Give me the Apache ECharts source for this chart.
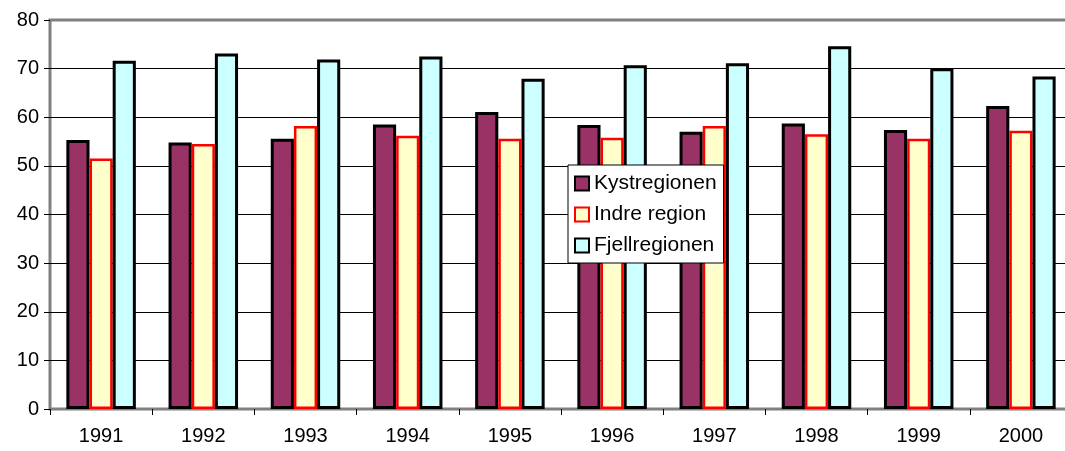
<!DOCTYPE html>
<html>
<head>
<meta charset="utf-8">
<script src="https://cdn.jsdelivr.net/npm/echarts@6/dist/echarts.min.js"></script>
<style>
  html, body { margin: 0; padding: 0; background: #fff; }
  #chart { width: 1065px; height: 451px; }
</style>
</head>
<body>
<div id="chart"></div>
<script>
// data
const years = ['1991', '1992', '1993', '1994', '1995', '1996', '1997', '1998', '1999', '2000']
const kystregionen = [55.3, 54.8, 55.6, 58.5, 61.1, 58.4, 57.0, 58.7, 57.4, 62.3]
const indreRegion = [51.5, 54.5, 58.2, 56.2, 55.6, 55.8, 58.2, 56.5, 55.6, 57.2]
const fjellregionen = [71.6, 73.1, 71.9, 72.5, 67.9, 70.7, 71.1, 74.6, 70.1, 68.4]

const font = '"Liberation Sans", Arial, sans-serif'

const chart = echarts.init(document.getElementById('chart'), null, { renderer: 'canvas' })

function bar (name, data, fill, border, bw) {
  return {
    name,
    type: 'bar',
    data,
    barGap: '0%',
    barCategoryGap: '32%',
    itemStyle: { color: fill, borderColor: border, borderWidth: bw },
    emphasis: { disabled: true }
  }
}

chart.setOption({
  animation: false,
  textStyle: { fontFamily: font },
  grid: {
    left: 50,
    top: 20,
    width: 1022,
    bottom: 42,
    outerBoundsMode: 'none',
    containLabel: false,
    show: true,
    backgroundColor: 'transparent',
    borderColor: '#808080',
    borderWidth: 3
  },
  legend: {
    orient: 'vertical',
    left: 568,
    top: 165,
    padding: [8, 7, 7, 6],
    itemGap: 10,
    itemWidth: 14,
    itemHeight: 14,
    backgroundColor: '#fff',
    borderColor: '#000',
    borderWidth: 1,
    icon: 'rect',
    textStyle: { fontSize: 21, color: '#000', fontFamily: font },
    data: ['Kystregionen', 'Indre region', 'Fjellregionen']
  },
  xAxis: {
    type: 'category',
    data: years,
    boundaryGap: true,
    axisLine: { show: false },
    axisTick: { show: true, length: 6, lineStyle: { color: '#000', width: 1 } },
    axisLabel: { fontSize: 20, color: '#000', margin: 17, fontFamily: font }
  },
  yAxis: {
    type: 'value',
    min: 0,
    max: 80,
    interval: 10,
    axisLine: { show: false },
    axisTick: { show: true, length: 6, lineStyle: { color: '#000', width: 1 } },
    axisLabel: { fontSize: 20, color: '#000', margin: 11, fontFamily: font },
    splitLine: { show: true, showMinLine: false, showMaxLine: false, lineStyle: { color: '#000', width: 1 } }
  },
  series: [
    bar('Kystregionen', kystregionen, '#993366', '#000', 3),
    bar('Indre region', indreRegion, '#FFFFCC', '#FF0000', 2.5),
    bar('Fjellregionen', fjellregionen, '#CCFFFF', '#000', 3)
  ]
})
</script>
</body>
</html>
